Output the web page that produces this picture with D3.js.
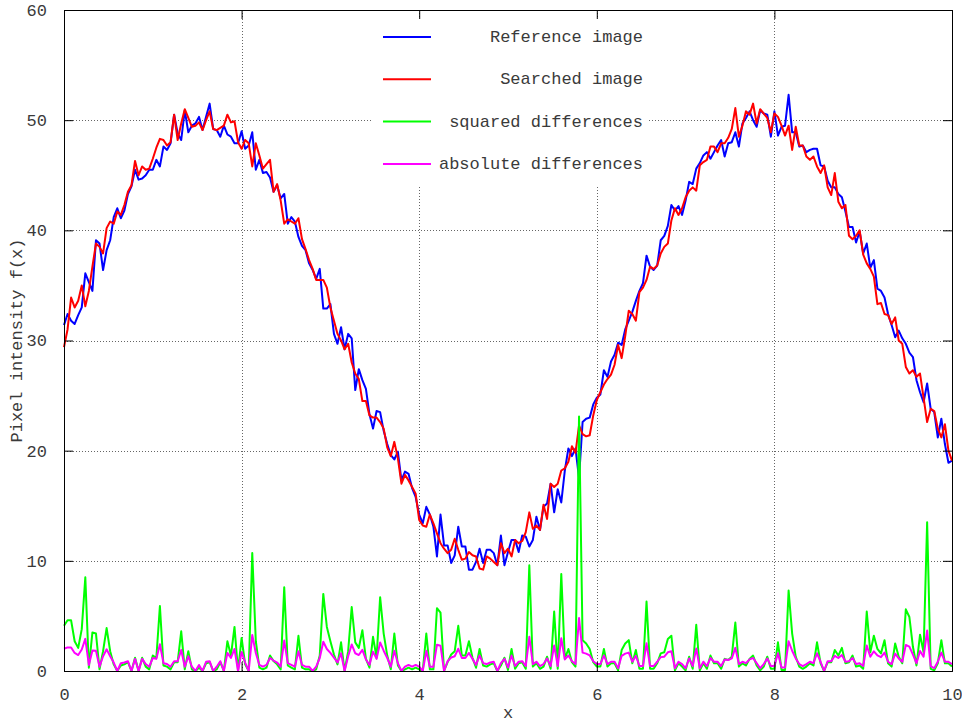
<!DOCTYPE html>
<html>
<head>
<meta charset="utf-8">
<script src="https://cdn.jsdelivr.net/npm/d3@7"></script>
<style>
  body { margin: 0; background: #fff; }
  svg text { font-family: 'Liberation Mono', 'DejaVu Sans Mono', monospace; fill: #3a3a3a; }
</style>
</head>
<body>
<svg id="chart" width="962" height="722"></svg>
<script>
// sample spacing along x
const xStep = 0.04;
const xTicks = [0, 2, 4, 6, 8, 10];
const yTicks = [0, 10, 20, 30, 40, 50, 60];
const seriesNames = ['Reference image', 'Searched image', 'squared differences', 'absolute differences'];

const referenceImage = [
  31.4, 32.4, 31.8, 31.5, 32.3, 33.0, 36.1, 35.3, 34.5, 39.1,
  38.8, 36.4, 38.2, 39.1, 41.2, 42.0, 41.1, 41.8, 43.3, 44.0,
  45.5, 44.6, 44.7, 45.0, 45.5, 45.5, 46.4, 45.8, 47.6, 47.3,
  47.9, 50.5, 48.8, 48.2, 50.9, 48.9, 49.5, 49.7, 50.3, 49.1,
  50.3, 51.5, 49.2, 49.1, 48.5, 49.5, 48.7, 48.5, 47.9, 47.9,
  49.0, 47.4, 47.7, 48.9, 45.5, 46.4, 45.2, 45.3, 44.8, 43.5,
  44.1, 42.9, 43.3, 40.6, 41.2, 40.8, 39.4, 38.6, 38.2, 37.0,
  36.4, 35.6, 36.5, 32.9, 32.9, 33.3, 30.6, 29.7, 31.2, 29.2,
  30.6, 30.2, 25.5, 27.4, 26.4, 25.6, 23.3, 22.0, 23.6, 23.5,
  21.8, 20.6, 19.6, 19.2, 19.9, 17.3, 18.1, 17.9, 16.6, 15.8,
  14.2, 13.4, 14.9, 14.2, 13.1, 10.4, 14.2, 11.4, 11.4, 9.8,
  10.5, 13.1, 11.3, 11.3, 9.2, 9.2, 9.9, 11.1, 9.8, 11.0,
  11.0, 10.7, 9.6, 12.3, 9.6, 10.8, 11.9, 11.9, 10.8, 12.3,
  12.2, 11.3, 11.9, 14.0, 12.8, 14.9, 15.2, 17.0, 14.4, 16.5,
  15.3, 18.2, 20.2, 19.5, 20.2, 17.5, 22.6, 22.9, 23.0, 24.2,
  24.8, 25.1, 27.3, 26.7, 28.1, 28.7, 29.8, 29.6, 31.0, 31.8,
  32.6, 33.6, 34.5, 35.2, 37.7, 36.7, 36.4, 36.8, 39.1, 39.5,
  40.4, 42.3, 41.8, 42.2, 41.4, 42.7, 44.4, 44.2, 45.6, 46.1,
  46.8, 47.1, 46.5, 47.1, 47.7, 48.2, 46.7, 47.9, 48.0, 48.9,
  47.6, 49.7, 50.2, 50.8, 50.0, 49.4, 50.9, 50.6, 50.5, 48.5,
  50.8, 48.6, 49.4, 49.5, 52.3, 48.9, 48.9, 47.6, 47.7, 47.1,
  47.3, 47.4, 47.4, 45.9, 45.8, 44.5, 43.9, 43.9, 43.3, 43.0,
  41.7, 40.3, 40.3, 38.9, 39.9, 37.9, 38.8, 36.6, 37.3, 34.7,
  34.5, 33.9, 32.4, 31.4, 30.3, 30.9, 30.2, 29.7, 28.9, 28.5,
  26.4, 25.3, 24.4, 26.1, 23.8, 23.5, 21.2, 22.9, 20.6, 18.9,
  19.1
];

const searchedImage = [
  29.4, 31.0, 33.9, 33.0, 33.6, 35.0, 33.1, 34.5, 36.7, 38.8,
  38.5, 37.9, 40.2, 40.8, 40.6, 41.7, 41.4, 42.3, 43.5, 44.1,
  46.3, 45.0, 45.8, 45.5, 45.6, 46.5, 47.5, 48.3, 48.2, 47.7,
  48.0, 50.5, 48.2, 49.7, 51.0, 50.2, 49.4, 49.5, 49.8, 49.1,
  50.0, 50.8, 49.2, 49.1, 49.3, 49.5, 50.5, 49.8, 49.9, 48.0,
  47.4, 48.2, 47.9, 45.8, 47.9, 46.8, 45.6, 46.0, 46.4, 43.5,
  44.2, 42.7, 40.6, 41.0, 40.8, 40.6, 41.1, 39.2, 38.3, 37.3,
  36.5, 35.5, 35.5, 35.5, 34.8, 33.0, 31.8, 30.6, 30.0, 29.2,
  29.7, 28.0, 27.0, 26.5, 24.5, 24.5, 23.2, 23.0, 23.0, 22.6,
  22.0, 20.3, 19.5, 20.8, 19.3, 17.0, 17.8, 17.3, 16.7, 16.1,
  13.7, 13.2, 13.1, 14.2, 13.4, 12.5, 11.6, 11.1, 10.7, 11.0,
  12.0, 11.0, 10.1, 10.2, 10.8, 10.5, 10.4, 9.3, 9.2, 10.4,
  10.2, 9.9, 9.6, 11.6, 10.7, 11.1, 10.4, 11.9, 11.6, 11.8,
  12.6, 14.4, 12.9, 13.2, 12.8, 15.1, 13.8, 17.0, 16.7, 17.0,
  18.2, 18.4, 19.0, 20.4, 19.8, 22.3, 21.5, 21.3, 21.4, 23.2,
  24.6, 25.3, 26.0, 26.5, 26.9, 27.8, 29.6, 28.4, 30.4, 32.7,
  32.4, 31.8, 34.4, 34.8, 35.5, 36.7, 36.5, 36.8, 37.9, 38.5,
  38.8, 40.9, 42.0, 41.4, 42.0, 43.0, 43.6, 43.9, 43.6, 45.9,
  46.2, 46.4, 47.6, 47.6, 47.1, 47.9, 47.9, 48.4, 49.2, 51.1,
  48.5, 49.5, 50.8, 50.5, 51.5, 49.7, 51.0, 50.6, 50.2, 48.9,
  50.6, 50.3, 49.5, 48.6, 49.5, 47.3, 49.4, 47.7, 47.7, 46.7,
  46.4, 46.7, 45.8, 45.2, 45.9, 43.9, 43.2, 45.2, 42.6, 42.0,
  42.3, 39.5, 39.2, 39.5, 40.0, 37.8, 37.0, 36.5, 35.8, 33.3,
  33.4, 32.4, 32.3, 31.5, 32.1, 30.0, 29.7, 27.6, 27.0, 27.3,
  26.7, 27.0, 24.8, 22.6, 23.8, 23.6, 22.0, 21.2, 22.4, 20.0,
  19.1
];

const squaredDifferences = [
  4.1, 4.6, 4.6, 2.7, 2.1, 3.8, 8.5, 0.3, 3.5, 3.4,
  0.15, 1.8, 3.9, 1.8, 0.6, 0, 0.5, 0.6, 0.8, 0,
  1.2, 0, 1.2, 0.4, 0.15, 1.4, 1.2, 5.9, 0.5, 0.4,
  0.15, 0.8, 0.8, 3.6, 0.15, 1.8, 0.15, 0, 0.3, 0,
  0.7, 0.8, 0, 0.15, 0.8, 0, 2.7, 1.4, 4.0, 0,
  3.0, 0.6, 0, 10.7, 2.7, 0.3, 0.15, 0.3, 1.4, 0.9,
  0.6, 0.15, 7.6, 0.5, 0.3, 0.15, 3.2, 0.3, 0.15, 0.15,
  0, 0.15, 1.4, 7.0, 4.0, 2.7, 1.5, 0.6, 2.6, 0,
  1.8, 5.8, 2.6, 2.1, 3.7, 1.1, 0.3, 3.1, 1.2, 6.7,
  3.4, 1.4, 0.15, 3.4, 0.5, 0, 0.15, 0.3, 0.15, 0.3,
  0.15, 0, 3.4, 0.15, 0.15, 5.7, 5.3, 0, 0.8, 1.5,
  1.8, 4.1, 1.4, 1.4, 2.7, 1.2, 0.3, 2.0, 0.5, 0.4,
  0.6, 0.7, 0, 0.5, 1.2, 0.1, 2.0, 0.2, 0.7, 0.8,
  0.2, 9.6, 0.4, 0.7, 0.2, 0.4, 1.3, 0.2, 5.4, 0.2,
  8.8, 1.1, 2.0, 0.8, 0.4, 23.1, 2.8, 2.5, 2.0, 0.8,
  0.4, 0.4, 2.0, 0.4, 0.7, 0.7, 0.06, 1.9, 2.5, 2.8,
  0.7, 1.9, 0.2, 0.2, 6.3, 0.2, 0.2, 0.7, 1.6, 1.7,
  2.9, 3.2, 0.06, 0.7, 0.4, 0.06, 1.3, 0.2, 4.2, 0.06,
  0.7, 0.2, 1.4, 0.7, 0.7, 0.2, 1.1, 1.0, 1.3, 4.4,
  0.4, 0.7, 0.5, 1.1, 1.4, 0.5, 0.06, 0.4, 1.3, 0.2,
  0.2, 2.6, 0.1, 0.1, 7.3, 3.4, 1.3, 0.4, 0.2, 0.4,
  0.7, 0.5, 2.6, 0.7, 0, 0.8, 0.8, 1.9, 1.4, 2.1,
  0.7, 0.8, 1.4, 0.4, 0.5, 0.2, 5.4, 1.7, 3.2, 2.0,
  1.6, 2.8, 0.7, 0.4, 2.5, 1.3, 0.7, 5.6, 4.9, 2.2,
  0.5, 3.3, 1.7, 13.5, 0.2, 0.06, 0.7, 2.8, 0.7, 0.7,
  0.4
];

const absoluteDifferences = [
  2.02, 2.14, 2.14, 1.64, 1.45, 1.95, 2.92, 0.55, 1.87, 1.84,
  0.39, 1.34, 1.97, 1.34, 0.77, 0, 0.71, 0.77, 0.89, 0,
  1.10, 0, 1.10, 0.63, 0.39, 1.18, 1.10, 2.43, 0.71, 0.63,
  0.39, 0.89, 0.89, 1.90, 0.39, 1.34, 0.39, 0, 0.55, 0,
  0.84, 0.89, 0, 0.39, 0.89, 0, 1.64, 1.18, 2.0, 0,
  1.73, 0.77, 0, 3.27, 1.64, 0.55, 0.39, 0.55, 1.18, 0.95,
  0.77, 0.39, 2.76, 0.71, 0.55, 0.39, 1.79, 0.55, 0.39, 0.39,
  0, 0.39, 1.18, 2.65, 2.0, 1.64, 1.22, 0.77, 1.61, 0,
  1.34, 2.41, 1.61, 1.45, 1.92, 1.05, 0.55, 1.76, 1.10, 2.59,
  1.84, 1.18, 0.39, 1.84, 0.71, 0, 0.39, 0.55, 0.39, 0.55,
  0.39, 0, 1.84, 0.39, 0.39, 2.39, 2.30, 0, 0.89, 1.22,
  1.34, 2.02, 1.18, 1.18, 1.64, 1.10, 0.55, 1.41, 0.71, 0.63,
  0.77, 0.84, 0, 0.71, 1.10, 0.32, 1.41, 0.45, 0.84, 0.89,
  0.45, 3.10, 0.63, 0.84, 0.45, 0.63, 1.14, 0.45, 2.32, 0.45,
  2.97, 1.05, 1.41, 0.89, 0.63, 4.81, 1.67, 1.58, 1.41, 0.89,
  0.63, 0.63, 1.41, 0.63, 0.84, 0.84, 0.25, 1.38, 1.58, 1.67,
  0.84, 1.38, 0.45, 0.45, 2.51, 0.45, 0.45, 0.84, 1.26, 1.30,
  1.70, 1.79, 0.25, 0.84, 0.63, 0.25, 1.14, 0.45, 2.05, 0.25,
  0.84, 0.45, 1.18, 0.84, 0.84, 0.45, 1.05, 1.0, 1.14, 2.10,
  0.63, 0.84, 0.71, 1.05, 1.18, 0.71, 0.25, 0.63, 1.14, 0.45,
  0.45, 1.61, 0.32, 0.32, 2.70, 1.84, 1.14, 0.63, 0.45, 0.63,
  0.84, 0.71, 1.61, 0.84, 0, 0.89, 0.89, 1.38, 1.18, 1.45,
  0.84, 0.89, 1.18, 0.63, 0.71, 0.45, 2.32, 1.30, 1.79, 1.41,
  1.26, 1.67, 0.84, 0.63, 1.58, 1.14, 0.84, 2.37, 2.21, 1.48,
  0.71, 1.82, 1.30, 3.67, 0.45, 0.25, 0.84, 1.67, 0.84, 0.84,
  0.63
];

const colors = ['#0000ff', '#ff0000', '#00ff00', '#ff00ff'];

// sizing
const width = 962;
const height = 722;
const margin = { top: 10, right: 10, bottom: 51, left: 64 };
const fontSize = 17;

const svg = d3.select('#chart');

const x = d3.scaleLinear()
  .domain([0, 10])
  .range([margin.left, width - margin.right]);

const y = d3.scaleLinear()
  .domain([0, 60])
  .range([height - margin.bottom, margin.top]);

// grid
const grid = svg.append('g')
  .attr('stroke', '#666')
  .attr('stroke-width', 1)
  .attr('stroke-dasharray', '1,2');

xTicks.slice(1, -1).forEach(t => {
  grid.append('line')
    .attr('x1', Math.round(x(t)) + 0.5)
    .attr('x2', Math.round(x(t)) + 0.5)
    .attr('y1', y(0))
    .attr('y2', y(60));
});

yTicks.slice(1, -1).forEach(t => {
  grid.append('line')
    .attr('x1', x(0))
    .attr('x2', x(10))
    .attr('y1', Math.round(y(t)) + 0.5)
    .attr('y2', Math.round(y(t)) + 0.5);
});

// key box is opaque
svg.append('rect')
  .attr('x', 372)
  .attr('y', 18)
  .attr('width', 276)
  .attr('height', 168)
  .attr('fill', '#fff');

// curves
const series = [referenceImage, searchedImage, squaredDifferences, absoluteDifferences];

const line = d3.line()
  .x((d, i) => x(i * xStep))
  .y(d => y(d));

series.forEach((values, k) => {
  svg.append('path')
    .datum(values)
    .attr('fill', 'none')
    .attr('stroke', colors[k])
    .attr('stroke-width', 2)
    .attr('stroke-linejoin', 'round')
    .attr('d', line);
});

// axes, ticks pointing inward and mirrored
const tickLen = 9;

svg.append('g')
  .attr('transform', `translate(0,${y(0)})`)
  .call(d3.axisBottom(x).tickValues(xTicks).tickSize(-tickLen).tickPadding(tickLen + 8));

svg.append('g')
  .attr('transform', `translate(0,${y(60)})`)
  .call(d3.axisTop(x).tickValues(xTicks).tickSize(-tickLen).tickFormat(''));

svg.append('g')
  .attr('transform', `translate(${x(0)},0)`)
  .call(d3.axisLeft(y).tickValues(yTicks).tickSize(-tickLen).tickPadding(tickLen + 8));

svg.append('g')
  .attr('transform', `translate(${x(10)},0)`)
  .call(d3.axisRight(y).tickValues(yTicks).tickSize(-tickLen).tickFormat(''));

svg.selectAll('.domain').attr('stroke', '#000');
svg.selectAll('.tick line').attr('stroke', '#000');
svg.selectAll('.tick text')
  .attr('font-family', "'Liberation Mono', monospace")
  .attr('font-size', fontSize)
  .attr('fill', '#3a3a3a');

// axis titles
svg.append('text')
  .attr('x', (x(0) + x(10)) / 2)
  .attr('y', 718)
  .attr('text-anchor', 'middle')
  .attr('font-size', fontSize)
  .text('x');

svg.append('text')
  .attr('transform', `translate(22,${(y(0) + y(60)) / 2}) rotate(-90)`)
  .attr('text-anchor', 'middle')
  .attr('font-size', fontSize)
  .text('Pixel intensity f(x)');

// key
const key = svg.append('g');
seriesNames.forEach((name, k) => {
  const ky = 37 + k * 42.3;
  key.append('line')
    .attr('x1', 383)
    .attr('x2', 431)
    .attr('y1', ky)
    .attr('y2', ky)
    .attr('stroke', colors[k])
    .attr('stroke-width', 2);
  key.append('text')
    .attr('x', 643)
    .attr('y', ky + 5)
    .attr('text-anchor', 'end')
    .attr('font-size', fontSize)
    .text(name);
});
</script>
</body>
</html>
